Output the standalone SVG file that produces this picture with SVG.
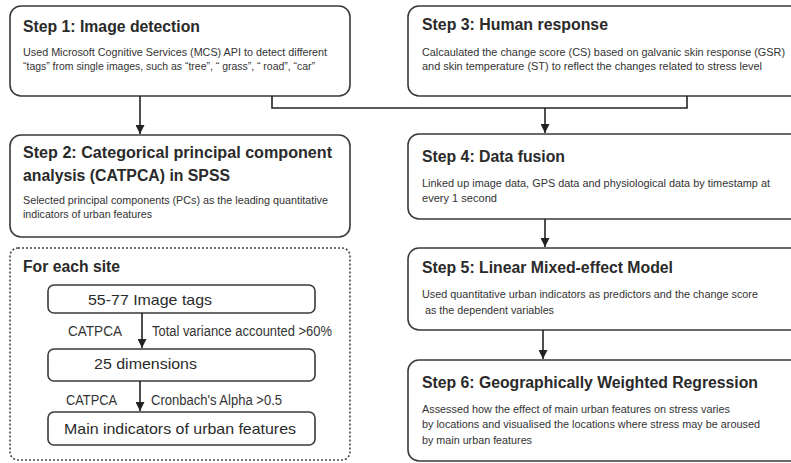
<svg xmlns="http://www.w3.org/2000/svg" width="791" height="463" viewBox="0 0 791 463">
<defs>
<marker id="ah" viewBox="0 0 10 10" refX="10" refY="5" markerWidth="9" markerHeight="9" markerUnits="userSpaceOnUse" orient="auto">
<path d="M0,0 L10,5 L0,10 z" fill="#222"/>
</marker>
<style>
.box{fill:#fff;stroke:#3a3a3a;stroke-width:1.6}
.dot{fill:none;stroke:#444;stroke-width:1.6;stroke-dasharray:2,2}
.ttl{font-family:"Liberation Sans",Arial,sans-serif;font-weight:bold;font-size:16px;fill:#2a2a2a}
.body{font-family:"Liberation Sans",Arial,sans-serif;font-size:11px;fill:#333}
.in{font-family:"Liberation Sans",Arial,sans-serif;font-size:15px;fill:#2a2a2a}
.con{fill:none;stroke:#222;stroke-width:1.6}
</style>
</defs>
<rect width="791" height="463" fill="#fff"/>

<g id="step1">
<rect class="box" x="10" y="6" width="340" height="90" rx="11"/>
<text class="ttl" x="23" y="32" textLength="177" lengthAdjust="spacingAndGlyphs">Step 1: Image detection</text>
<text class="body" x="23" y="56" textLength="304" lengthAdjust="spacingAndGlyphs">Used Microsoft Cognitive Services (MCS) API to detect different</text>
<text class="body" x="23" y="70" textLength="292" lengthAdjust="spacingAndGlyphs">“tags” from single images, such as “tree”, “ grass”, “ road”, “car”</text>
</g>

<g id="step3">
<rect class="box" x="408" y="6" width="400" height="90" rx="11"/>
<text class="ttl" x="422" y="30" textLength="186" lengthAdjust="spacingAndGlyphs">Step 3: Human response</text>
<text class="body" x="422" y="56" textLength="363" lengthAdjust="spacingAndGlyphs">Calcaulated the change score (CS) based on galvanic skin response (GSR)</text>
<text class="body" x="422" y="70" textLength="340" lengthAdjust="spacingAndGlyphs">and skin temperature (ST) to reflect the changes related to stress level</text>
</g>

<g id="step2">
<rect class="box" x="10" y="135" width="340" height="102" rx="11"/>
<text class="ttl" x="23" y="158" textLength="309" lengthAdjust="spacingAndGlyphs">Step 2: Categorical  principal component</text>
<text class="ttl" x="23" y="181" textLength="207" lengthAdjust="spacingAndGlyphs">analysis (CATPCA) in SPSS</text>
<text class="body" x="23" y="204" textLength="305" lengthAdjust="spacingAndGlyphs">Selected principal components (PCs) as the leading quantitative</text>
<text class="body" x="23" y="218" textLength="129" lengthAdjust="spacingAndGlyphs">indicators of urban features</text>
</g>

<g id="step4">
<rect class="box" x="408" y="134" width="400" height="85" rx="11"/>
<text class="ttl" x="422" y="162" textLength="143" lengthAdjust="spacingAndGlyphs">Step 4: Data fusion</text>
<text class="body" x="422" y="187" textLength="348" lengthAdjust="spacingAndGlyphs">Linked up image data, GPS data and physiological data by timestamp at</text>
<text class="body" x="422" y="202" textLength="75" lengthAdjust="spacingAndGlyphs">every 1 second</text>
</g>

<g id="step5">
<rect class="box" x="408" y="248" width="400" height="82" rx="11"/>
<text class="ttl" x="422" y="273" textLength="251" lengthAdjust="spacingAndGlyphs">Step 5: Linear Mixed-effect Model</text>
<text class="body" x="422" y="298" textLength="336" lengthAdjust="spacingAndGlyphs">Used quantitative urban indicators as predictors and the change score</text>
<text class="body" x="425" y="314" textLength="129" lengthAdjust="spacingAndGlyphs">as the dependent variables</text>
</g>

<g id="step6">
<rect class="box" x="408" y="360" width="400" height="101" rx="11"/>
<text class="ttl" x="422" y="388" textLength="336" lengthAdjust="spacingAndGlyphs">Step 6: Geographically Weighted Regression</text>
<text class="body" x="422" y="413" textLength="308" lengthAdjust="spacingAndGlyphs">Assessed how the effect of main urban features on stress varies</text>
<text class="body" x="422" y="428" textLength="338" lengthAdjust="spacingAndGlyphs">by locations and visualised the locations where stress may be aroused</text>
<text class="body" x="422" y="444" textLength="110" lengthAdjust="spacingAndGlyphs">by main urban features</text>
</g>

<g id="site">
<rect class="dot" x="10" y="248" width="340" height="212" rx="8"/>
<text class="ttl" x="23" y="272" textLength="97" lengthAdjust="spacingAndGlyphs">For each site</text>
</g>

<g id="tags">
<rect class="box" x="48" y="285" width="267" height="28" rx="6"/>
<text class="in" x="88" y="305" textLength="124" lengthAdjust="spacingAndGlyphs">55-77 Image tags</text>
</g>

<g id="dims">
<rect class="box" x="48" y="349" width="267" height="32" rx="6"/>
<text class="in" x="94" y="369" textLength="103" lengthAdjust="spacingAndGlyphs">25 dimensions</text>
</g>

<g id="main">
<rect class="box" x="48" y="412" width="267" height="33" rx="6"/>
<text class="in" x="64" y="434" textLength="232" lengthAdjust="spacingAndGlyphs">Main indicators of urban features</text>
</g>

<g id="connectors">
<line class="con" x1="140" y1="96" x2="140" y2="134" marker-end="url(#ah)"/>
<polyline class="con" points="272,96 272,108 687,108 687,96"/>
<line class="con" x1="545" y1="108" x2="545" y2="133" marker-end="url(#ah)"/>
<line class="con" x1="545" y1="219" x2="545" y2="247" marker-end="url(#ah)"/>
<line class="con" x1="543" y1="330" x2="543" y2="359" marker-end="url(#ah)"/>
<line class="con" x1="142" y1="313" x2="142" y2="348" marker-end="url(#ah)"/>
<line class="con" x1="140" y1="381" x2="140" y2="411" marker-end="url(#ah)"/>
<text class="body" style="font-size:14px" x="68" y="336" textLength="54" lengthAdjust="spacingAndGlyphs">CATPCA</text>
<text class="body" style="font-size:14px" x="152" y="336" textLength="180" lengthAdjust="spacingAndGlyphs">Total variance accounted &gt;60%</text>
<text class="body" style="font-size:14px" x="66" y="405" textLength="51" lengthAdjust="spacingAndGlyphs">CATPCA</text>
<text class="body" style="font-size:14px" x="151" y="405" textLength="131" lengthAdjust="spacingAndGlyphs">Cronbach's Alpha &gt;0.5</text>
</g>
</svg>
